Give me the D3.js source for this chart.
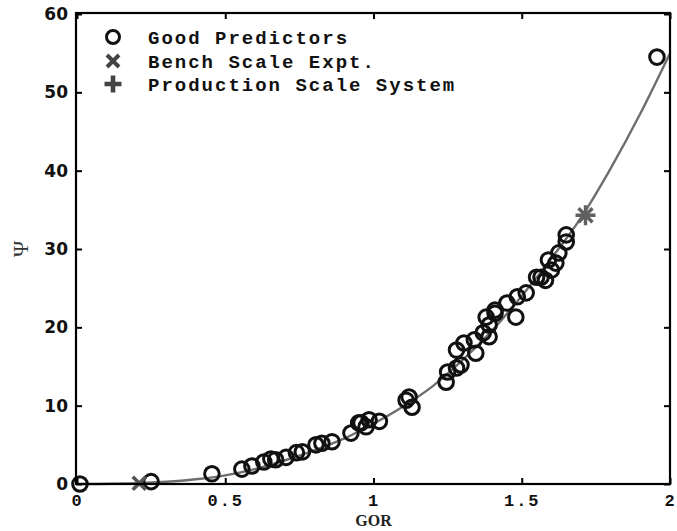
<!DOCTYPE html>
<html><head><meta charset="utf-8">
<script src="https://cdn.jsdelivr.net/npm/d3@7"></script>
<style>
body{margin:0;background:#fff;}
svg{display:block;}
</style></head><body>
<svg id="chart" width="677" height="531"></svg>
<script>
// Good predictors (GOR, Psi)
const goodGOR = [0.01,0.25,0.455,0.556,0.59,0.63,0.654,0.67,0.705,0.74,0.76,0.806,0.826,0.86,0.924,0.95,0.958,0.975,0.985,1.02,1.11,1.12,1.13,1.245,1.25,1.28,1.295,1.28,1.305,1.345,1.34,1.37,1.39,1.39,1.41,1.38,1.41,1.48,1.45,1.485,1.515,1.55,1.565,1.6,1.58,1.59,1.615,1.625,1.65,1.65,1.956];
const goodPsi = [0.0,0.3,1.3,1.9,2.3,2.8,3.2,3.1,3.4,4.0,4.1,5.0,5.2,5.4,6.5,7.8,7.8,7.3,8.2,8.0,10.7,11.1,9.8,13.0,14.3,14.8,15.2,17.1,18.0,16.7,18.4,19.3,18.8,20.3,21.8,21.3,22.2,21.3,23.1,23.9,24.4,26.4,26.4,27.3,26.0,28.6,28.2,29.5,30.9,31.8,54.5];
// Bench scale experiment
const benchGOR = [0.21];
const benchPsi = [0.1];
// Production scale system
const prodGOR = [1.715];
const prodPsi = [34.3];
// Fitted curve
const curveGOR = [0,0.2,0.4,0.5,0.6,0.7,0.8,0.9,1.0,1.1,1.2,1.3,1.4,1.5,1.6,1.7,1.8,1.9,2.0];
const curvePsi = [0,0.1,0.6,1.1,1.9,3.0,4.3,5.8,7.7,9.9,12.5,15.8,19.6,24.0,28.8,34.0,40.3,47.3,55.0];
const xTicks = [0,0.5,1,1.5,2];
const xTickLabels = ["0","0.5","1","1.5","2"];
const yTicks = [0,10,20,30,40,50,60];
const legendLabels = ["Good Predictors","Bench Scale Expt.","Production Scale System"];

const svg = d3.select("#chart");
const L=76, R=670, T=13, B=484;
const x = d3.scaleLinear().domain([0,2]).range([L+1,R]);
const y = d3.scaleLinear().domain([0,60]).range([B,T+1]);

// curve
const line = d3.line().x(d=>x(d[0])).y(d=>y(d[1])).curve(d3.curveMonotoneX);
svg.append("path").datum(d3.zip(curveGOR,curvePsi)).attr("d",line)
  .attr("fill","none").attr("stroke","#6e6e6e").attr("stroke-width",2.4);

// circles
svg.append("g").selectAll("circle").data(d3.zip(goodGOR,goodPsi)).join("circle")
  .attr("cx",d=>x(d[0])).attr("cy",d=>y(d[1])).attr("r",7.3)
  .attr("fill","none").attr("stroke","#111").attr("stroke-width",3);

function drawX(g,cx,cy,s,col,w){
  g.append("path").attr("d",`M${cx-s},${cy-s}L${cx+s},${cy+s}M${cx-s},${cy+s}L${cx+s},${cy-s}`)
   .attr("stroke",col).attr("stroke-width",w).attr("fill","none");
}
function drawPlus(g,cx,cy,s,col,w){
  g.append("path").attr("d",`M${cx-s},${cy}L${cx+s},${cy}M${cx},${cy-s}L${cx},${cy+s}`)
   .attr("stroke",col).attr("stroke-width",w).attr("fill","none");
}
const mk = svg.append("g");
d3.zip(benchGOR,benchPsi).forEach(d=>drawX(mk,x(d[0]),y(d[1]),6.5,"#555",3.6));
d3.zip(prodGOR,prodPsi).forEach(d=>{
  drawPlus(mk,x(d[0]),y(d[1]),10,"#606060",3.4);
  drawX(mk,x(d[0]),y(d[1]),7,"#606060",3.4);
});

// frame
svg.append("rect").attr("x",L).attr("y",T).attr("width",R-L).attr("height",B-T)
  .attr("fill","none").attr("stroke","#000").attr("stroke-width",2.2);

// axes with inward ticks
const xb = svg.append("g").attr("transform",`translate(0,${B})`)
  .call(d3.axisBottom(x).tickValues(xTicks).tickSize(-6).tickFormat((d,i)=>xTickLabels[i]).tickPadding(10));
const xt = svg.append("g").attr("transform",`translate(0,${T})`)
  .call(d3.axisTop(x).tickValues(xTicks).tickSize(-6).tickFormat(""));
const yl = svg.append("g").attr("transform",`translate(${L},0)`)
  .call(d3.axisLeft(y).tickValues(yTicks).tickSize(-6).tickPadding(8));
const yr = svg.append("g").attr("transform",`translate(${R},0)`)
  .call(d3.axisRight(y).tickValues(yTicks).tickSize(-6).tickFormat(""));
[xb,xt,yl,yr].forEach(g=>{g.select(".domain").remove();g.selectAll(".tick line").attr("stroke","#000").attr("stroke-width",2);});
xb.selectAll(".tick text").attr("font-family","'Liberation Mono',monospace").attr("font-weight","bold")
  .attr("font-size",17).attr("letter-spacing","2px").attr("fill","#111");
yl.selectAll(".tick text").attr("font-family","'DejaVu Sans',sans-serif").attr("font-weight","bold")
  .attr("font-size",17).attr("fill","#111");

// axis titles
svg.append("text").attr("x",x(1)).attr("y",526).attr("text-anchor","middle")
  .attr("font-family","'Liberation Serif',serif").attr("font-weight","bold").attr("font-size",16)
  .attr("fill","#222").text("GOR");
svg.append("text").attr("transform",`translate(28,${y(30)}) rotate(-90)`).attr("text-anchor","middle")
  .attr("font-family","'Liberation Serif',serif").attr("font-size",22).attr("fill","#333").text("Ψ");

// legend
const lg = svg.append("g");
const ly = [37,61,84];
lg.append("circle").attr("cx",113).attr("cy",ly[0]).attr("r",6.5).attr("fill","none").attr("stroke","#111").attr("stroke-width",3);
drawX(lg,113,ly[1],6,"#444",4);
drawPlus(lg,113,ly[2],8.5,"#444",4.6);
legendLabels.forEach((t,i)=>{
  lg.append("text").attr("x",148).attr("y",ly[i]).attr("dy","0.35em")
    .attr("font-family","'Liberation Mono',monospace").attr("font-weight","bold")
    .attr("font-size",19).attr("letter-spacing","2px").attr("fill","#111").text(t);
});
</script>
</body></html>
